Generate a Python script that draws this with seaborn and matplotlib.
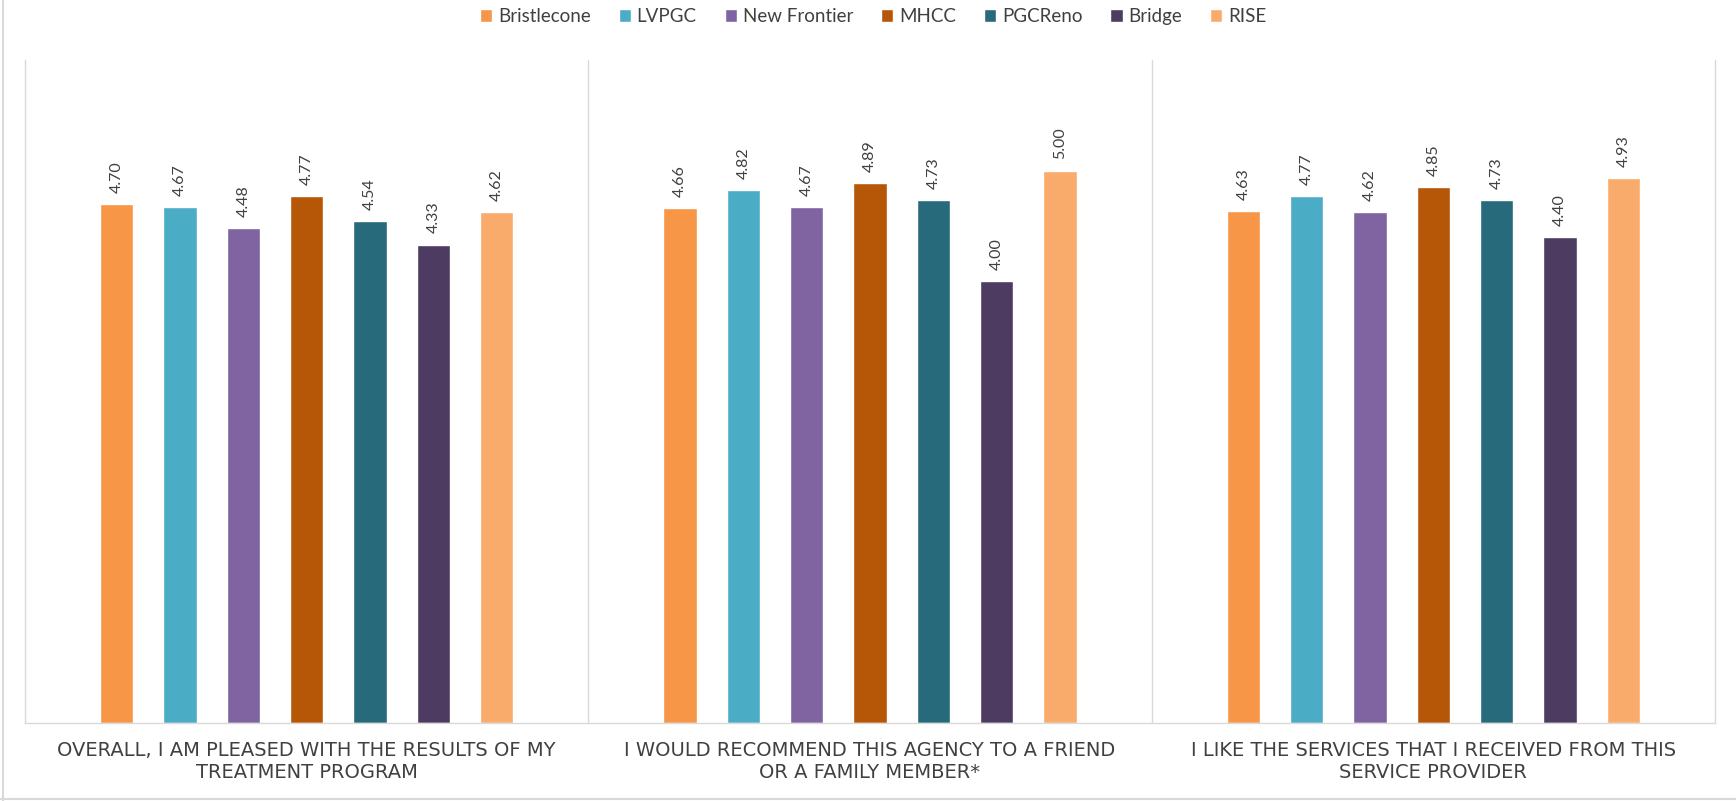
import matplotlib
matplotlib.use("Agg")
import matplotlib.pyplot as plt
from matplotlib.lines import Line2D
import seaborn as sns
import pandas as pd

# ---------------- data ----------------
questions = [
    "OVERALL, I AM PLEASED WITH THE RESULTS OF MY\nTREATMENT PROGRAM",
    "I WOULD RECOMMEND THIS AGENCY TO A FRIEND\nOR A FAMILY MEMBER*",
    "I LIKE THE SERVICES THAT I RECEIVED FROM THIS\nSERVICE PROVIDER",
]
providers = ["Bristlecone", "LVPGC", "New Frontier", "MHCC", "PGCReno", "Bridge", "RISE"]
bristlecone = [4.70, 4.66, 4.63]
lvpgc = [4.67, 4.82, 4.77]
new_frontier = [4.48, 4.67, 4.62]
mhcc = [4.77, 4.89, 4.85]
pgcreno = [4.54, 4.73, 4.73]
bridge = [4.33, 4.00, 4.40]
rise = [4.62, 5.00, 4.93]
colors = ["#F79646", "#4BACC6", "#8064A2", "#B65708", "#276A7C", "#4D3B62", "#F9AB6B"]

series = [bristlecone, lvpgc, new_frontier, mhcc, pgcreno, bridge, rise]
rows = []
for prov, vals in zip(providers, series):
    for q, v in zip(questions, vals):
        rows.append({"question": q, "provider": prov, "score": v})
df = pd.DataFrame(rows)

# ---------------- style ----------------
sns.set_style("white")
plt.rcParams["font.family"] = ["Lato", "DejaVu Sans"]

fig = plt.figure(figsize=(17.36, 8.01), dpi=100)
ax = fig.add_axes([25 / 1736, 1 - 723 / 801, 1690 / 1736, 663 / 801])

sns.barplot(
    data=df, x="question", y="score", hue="provider",
    order=questions, hue_order=providers, palette=colors,
    saturation=1, width=0.787, gap=0.47, errorbar=None, ax=ax,
)

for cont in ax.containers:
    ax.bar_label(cont, fmt="%.2f", rotation=90, padding=8,
                 fontsize=11.5, color="#404040")

ax.set_ylim(0, 6)
ax.set_xlim(-0.5, 2.5)
ax.set_yticks([])
ax.set_xlabel("")
ax.set_ylabel("")

grid_c = "#D9D9D9"
ax.spines["top"].set_visible(False)
for side in ["left", "right", "bottom"]:
    ax.spines[side].set_color(grid_c)
    ax.spines[side].set_linewidth(1)

ax.set_xticks([0.5, 1.5], minor=True)
ax.grid(which="minor", axis="x", color=grid_c, lw=1)
ax.grid(which="major", axis="both", visible=False)
ax.tick_params(axis="x", which="both", length=0, pad=13)
ax.set_xticks(range(len(questions)))
ax.set_xticklabels(questions, fontsize=14, color="#404040",
                   family="DejaVu Sans", linespacing=1.2)

handles, labels = ax.get_legend_handles_labels()
ax.legend(handles, labels, loc="center", bbox_to_anchor=(0.503, 0.979),
          bbox_transform=fig.transFigure, ncol=7, frameon=False,
          fontsize=13.5, handlelength=0.65, handleheight=0.65,
          handletextpad=0.3, columnspacing=1.5, labelcolor="#404040")

# outer chart border (left and bottom visible)
fig.add_artist(Line2D([3 / 1736, 3 / 1736], [0, 1], transform=fig.transFigure,
                      color=grid_c, lw=1.5))
fig.add_artist(Line2D([0, 1], [2 / 801, 2 / 801], transform=fig.transFigure,
                      color=grid_c, lw=1.5))

fig.savefig("out.png", dpi=100, facecolor="white")
